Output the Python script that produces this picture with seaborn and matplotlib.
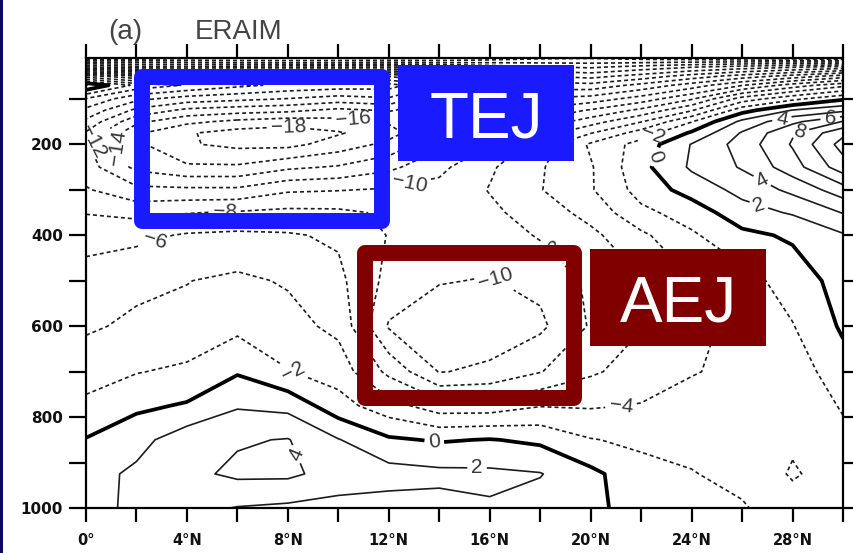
import numpy as np
import matplotlib
matplotlib.use("Agg")
import matplotlib.pyplot as plt
import seaborn as sns
from matplotlib.patches import Rectangle

# Zonal wind (m/s), latitude-pressure section
latitudes = [0, 2, 4, 6, 8, 10, 12, 14, 16, 18, 20, 22, 24, 26, 28, 30]
pressure_levels = [10, 20, 30, 50, 70, 100, 125, 150, 175, 200, 250, 300,
                   350, 400, 500, 600, 700, 775, 850, 925, 1000]

u_wind = [
    [-34.3, -33.4, -32.8, -32.4, -32.3, -32.4, -32.7, -32.3, -31.4, -30.4, -30.2, -30.8, -31.3, -32.1, -33.1, -34.2],
    [-27.5, -27.8, -28.1, -28.3, -28.4, -28.3, -28.4, -28.2, -28.1, -28.2, -28.3, -28.1, -27.7, -27.3, -27.2, -27.1],
    [-21.7, -23.1, -23.3, -22.9, -22.4, -22.2, -22.3, -23.1, -24.7, -25.8, -26.3, -25.2, -24.1, -23.1, -22.2, -21.3],
    [-7.1, -9.8, -10.9, -11.4, -11.6, -11.9, -12.2, -14.3, -19.7, -21.9, -22.7, -21.2, -19.1, -17.1, -15.2, -13.1],
    [2.1, -2.6, -4.2, -5.5, -6.5, -6.9, -7.1, -10.3, -16.9, -19.1, -19.3, -17.4, -15.1, -12.1, -9.1, -6.6],
    [-4.2, -7.5, -8.9, -9.5, -10.1, -10.9, -10.3, -14.2, -16.3, -15.8, -15.1, -13.1, -10.2, -5.1, -2.5, -0.3],
    [-6.5, -10.5, -12.5, -13.1, -13.5, -14.5, -13.8, -15.3, -15.1, -13.5, -11.8, -9.5, -6.2, -0.8, 2.1, 3.5],
    [-8.5, -13.5, -15.5, -16.5, -17.1, -16.7, -15.8, -15.1, -13.5, -11.5, -8.9, -6.1, -2.1, 2.5, 5.5, 8.1],
    [-10.2, -15.7, -17.8, -18.8, -19.1, -18.2, -16.7, -14.1, -12.1, -9.1, -6.1, -3.1, 0.3, 4.2, 7.8, 11.5],
    [-11.8, -15.6, -17.8, -18.5, -18.6, -17.1, -15.5, -12.5, -10.1, -7.1, -3.7, -1.2, 2.1, 4.8, 8.2, 12.8],
    [-11.1, -14.5, -15.7, -15.7, -14.4, -13.8, -12.5, -10.5, -8.3, -6.2, -4.2, -0.6, 2.3, 4.2, 7.1, 11.1],
    [-9.8, -11.5, -11.6, -11.6, -10.3, -10.1, -9.8, -9.4, -7.9, -6.1, -4.2, -1.2, 0.8, 2.6, 4.5, 7.1],
    [-8.1, -8.6, -8.1, -7.8, -7.5, -7.6, -8.3, -9.1, -8.4, -7.1, -5.3, -2.5, -1.1, 1.2, 2.2, 4.1],
    [-6.8, -6.5, -5.8, -5.6, -5.8, -6.3, -8.1, -9.1, -9.1, -7.8, -6.5, -4.4, -2.3, -0.5, 0.3, 1.8],
    [-5.1, -4.5, -4.05, -3.6, -4.2, -5.5, -8.6, -9.9, -10.1, -9.5, -7.6, -6.1, -4.1, -2.8, -1.1, 0.8],
    [-4.3, -3.6, -3.5, -2.5, -3.3, -4.5, -10.2, -11.0, -11.2, -10.4, -7.8, -6.1, -4.4, -3.6, -2.1, 0.3],
    [-2.8, -2.1, -1.6, -0.2, -1.9, -2.9, -6.5, -10.1, -9.6, -8.1, -6.3, -5.1, -4.1, -3.6, -3.1, -0.8],
    [-1.6, -0.4, 0.2, 1.8, 1.4, -1.2, -3.2, -5.1, -5.1, -4.1, -4.2, -3.9, -3.4, -3.3, -3.5, -1.8],
    [0.1, 1.3, 3.2, 3.8, 4.1, 2.1, 0.3, -0.2, 0.1, -0.4, -1.9, -2.4, -2.6, -3.1, -3.7, -2.5],
    [1.2, 2.4, 3.5, 4.4, 4.4, 3.2, 2.8, 2.5, 2.4, 2.1, 0.5, -1.3, -1.9, -2.6, -4.2, -3.1],
    [1.5, 2.3, 2.6, 1.9, 1.6, 1.3, 1.2, 1.3, 1.8, 1.2, 0.4, -0.7, -1.2, -1.8, -3.2, -3.1],
]

contour_levels = list(range(-40, 16, 2))

lat_ticks = list(range(0, 31, 2))
lat_tick_labels = ["0°", "", "4°N", "", "8°N", "", "12°N", "", "16°N", "",
                   "20°N", "", "24°N", "", "28°N", ""]
p_ticks = list(range(100, 1001, 100))
p_tick_labels = ["", "200", "", "400", "", "600", "", "800", "", "1000"]

title_panel = "(a)"
title_name = "ERAIM"
jet_names = ["TEJ", "AEJ"]

# label anchors (lat, hPa) for each contour family
neg_label_spots = [(0.3, 195), (1.1, 212), (8.0, 172), (10.6, 138), (12.8, 280),
                   (5.5, 345), (2.7, 405), (16.2, 497), (18.8, 418), (8.2, 702),
                   (21.2, 772), (22.5, 185)]
zero_label_spots = [(13.8, 855), (22.8, 232)]
pos_label_spots = [(15.5, 902), (8.5, 878), (26.7, 290), (26.6, 345),
                   (27.6, 150), (28.3, 176), (29.5, 145)]

sns.set_theme(style="ticks")
plt.rcParams["font.family"] = ["Liberation Sans", "DejaVu Sans"]

W, H = 854, 553
fig = plt.figure(figsize=(W / 100, H / 100), dpi=100)
fig.patch.set_facecolor("white")
ax = fig.add_axes([86 / W, 1 - 508 / H, 757 / W, 450 / H])
ax.set_facecolor("white")

lat = np.array(latitudes, dtype=float)
prs = np.array(pressure_levels, dtype=float)
u = np.array(u_wind, dtype=float)
lv = np.array(contour_levels, dtype=float)

line_col = "#1c1c1c"
cs_neg = ax.contour(lat, prs, u, levels=lv[lv < 0], colors=line_col,
                    linewidths=1.2, linestyles="dashed")
cs_neg.set_linestyle((0, (2.4, 1.8)))
cs_zero = ax.contour(lat, prs, u, levels=[0.0], colors="black", linewidths=2.7)
cs_pos = ax.contour(lat, prs, u, levels=lv[lv > 0], colors=line_col,
                    linewidths=1.2)


def fmt(v):
    return f"{v:.0f}".replace("-", "\u2212")


lab_kw = dict(fmt=fmt, inline=True, inline_spacing=4, fontsize=15, colors="#363636")
ax.clabel(cs_neg, manual=neg_label_spots, **lab_kw)
ax.clabel(cs_zero, manual=zero_label_spots, **lab_kw)
ax.clabel(cs_pos, manual=pos_label_spots, **lab_kw)

ax.set_xlim(0, 30)
ax.set_ylim(1000, 10)
ax.set_xticks(lat_ticks)
ax.set_xticklabels(lat_tick_labels)
ax.set_yticks(p_ticks)
ax.set_yticklabels(p_tick_labels)
ax.tick_params(axis="both", direction="out", width=1.6,
               color="black", top=True, right=True)
ax.tick_params(axis="x", length=10, pad=8, labelsize=10.5)
ax.tick_params(axis="y", length=12.5, pad=4, labelsize=11)
for lab in ax.get_xticklabels() + ax.get_yticklabels():
    lab.set_fontweight("bold")
    lab.set_family("DejaVu Sans")
    lab.set_color("#111111")
for s in ax.spines.values():
    s.set_visible(True)
    s.set_linewidth(1.6)
    s.set_color("black")
ax.grid(False)

# title
fig.text(108 / W, 1 - 39 / H, title_panel, fontsize=20, color="#444444",
         va="baseline", ha="left")
fig.text(239 / W, 1 - 39 / H, title_name, fontsize=20, color="#444444",
         va="baseline", ha="center")

# left frame strip
fig.add_artist(Rectangle((0, 0), 3 / W, 1, transform=fig.transFigure,
                         facecolor="#0b0b5e", edgecolor="none"))

# jet highlight frames and tags
blue = "#1a1aff"
dark_red = "#800000"


def frame(x0, y0, x1, y1, color):
    fig.add_artist(Rectangle((x0 / W, 1 - y1 / H), (x1 - x0) / W, (y1 - y0) / H,
                             transform=fig.transFigure, fill=False,
                             edgecolor=color, linewidth=11.5, joinstyle="round"))


def tag(x0, y0, x1, y1, color, text, baseline):
    fig.add_artist(Rectangle((x0 / W, 1 - y1 / H), (x1 - x0) / W, (y1 - y0) / H,
                             transform=fig.transFigure, facecolor=color,
                             edgecolor="none"))
    fig.text((x0 + x1) / 2 / W, 1 - baseline / H, text, color="white",
             fontsize=46, ha="center", va="baseline", family="Liberation Sans")


frame(142, 77.5, 381.5, 221, blue)
tag(398, 65, 574, 161, blue, jet_names[0], 137)
frame(365.5, 253.5, 574, 397.5, dark_red)
tag(590, 249, 766, 346, dark_red, jet_names[1], 321)

fig.savefig("out.png", dpi=100, facecolor="white")
